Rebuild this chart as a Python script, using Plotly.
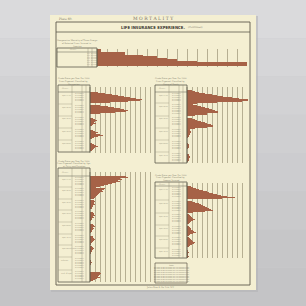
import plotly.graph_objects as go

W = H = 306

# ---------------- data (bar lengths per table row) -------------
top_rows = [4, 4, 28, 28, 46, 60, 70, 80, 100, 150, 150, 0]

ml_rows = [0, 0, 0, 0, 0,
           8, 15, 22, 28, 34, 40, 46, 52, 50, 38, 20,
           0, 0,
           10, 18, 24, 30, 34, 38, 36, 25, 10,
           0, 0, 0, 0,
           3, 5, 7, 5, 4, 6, 3, 2,
           0, 0, 0, 0,
           3, 5, 8, 6, 10, 13, 8, 4, 2,
           0, 0, 0, 0,
           2, 4, 6, 8, 5, 4, 3, 2,
           0, 0]

mr_rows = [0, 0, 0,
           5, 8, 12, 18, 25, 30, 36, 45, 52, 61, 55, 30, 10,
           0,
           6, 10, 14, 18, 22, 25, 28, 31, 20, 8,
           0, 0, 0,
           5, 8, 10, 14, 18, 20, 24, 26, 20, 8, 3,
           2, 3, 4, 3, 3, 2, 2, 1,
           0, 0, 0, 0, 0,
           1, 2, 1, 2, 1,
           0, 0, 0, 0, 0, 0,
           2, 1, 3, 2, 1, 2, 1, 0]

bl_rows = [0, 0, 0, 0,
           36, 38, 30, 32, 28, 30, 26, 22, 18, 14, 10, 6,
           15, 14, 12, 13, 10, 9, 8, 7, 6, 5, 4,
           0,
           4, 5, 4, 4, 5, 3, 3, 2, 2,
           0, 0, 0,
           3, 4, 4, 5, 3, 4, 2, 2, 1,
           0, 0, 0,
           3, 4, 5, 3, 4, 3, 2, 2, 1,
           0, 0, 0,
           3, 3, 4, 5, 4, 3, 2, 1, 1,
           0,
           2, 3, 4, 3, 2, 2, 1, 1, 0,
           0, 0, 0, 0, 0,
           1, 1, 2, 1, 1, 0, 0,
           0, 0, 0, 0, 0,
           10, 11, 10, 9, 8, 10, 7, 5, 3,
           0]

br_rows = [0, 0, 0,
           4, 6, 9, 12, 16, 20, 22, 26, 30, 34, 40, 48, 35,
           0, 0,
           5, 8, 12, 14, 16, 18, 20, 22, 24, 26, 18, 6,
           0,
           2, 3, 4, 5, 6, 8, 6, 4, 3, 2,
           0, 0,
           2, 3, 4, 4, 6, 7, 9, 6, 3, 2,
           0,
           2, 3, 4, 5, 6, 8, 7, 5, 3, 2,
           0, 0, 0,
           1, 1, 2, 1, 1, 1, 2, 1]

group_labels = ["Ages 15–29", "Ages 30–39", "Ages 40–49", "Ages 50–59", "Ages 60–69",
                "Ages 70–79", "Ages 80 and over", "Unknown", "Total, all ages"]

captions = {
    "top": ["Comparative Mortality of Three Groups", "of Selected Lives, Insured in", "America"],
    "ml": ["Crude Rates per Year Per 1000", "Lives Exposed, Classified by", "Occupation"],
    "mr": ["Crude Rates per Year Per 1000", "Lives Exposed, Classified by", "Cause of Death"],
    "bl": ["Crude Rates per Year Per 1000", "Lives Exposed, Classified by Age", "at Entry and Duration"],
    "br": ["Crude Rates per Year Per 1000", "Lives Exposed, Classified by", "Amount Insured"],
}

# ---------------- styling ----------------
BG = "#cdcdcf"
PAPER = "#f4efd2"
BAR = "#a66247"
INK = "#5e5a4c"
GRID = "#b6af92"
TXT = "#7a7666"


def X(x):
    return x / W


def Y(y):
    return 1 - y / H


fig = go.Figure()
shapes = []
ann = []


def text(x, y, s, size, color=TXT, family="DejaVu Serif", anchor="center"):
    ann.append(dict(x=X(x), y=Y(y), xref="paper", yref="paper", text=s, showarrow=False,
                    xanchor=anchor, yanchor="middle", font=dict(size=size, color=color, family=family)))


# background gradient (lighter on top)
bands = ["#dadadc", "#d6d6d8", "#d2d2d4", "#cfcfd1", "#cccccf", "#c9c9cb", "#c6c6c8", "#c4c4c6"]
for i, c in enumerate(bands):
    shapes.append(dict(type="rect", xref="paper", yref="paper", layer="below",
                       x0=0, x1=1, y0=Y((i + 1) * H / len(bands)), y1=Y(i * H / len(bands)),
                       fillcolor=c, line=dict(width=0)))
# poster shadow + sheet
shapes.append(dict(type="rect", xref="paper", yref="paper", layer="below",
                   x0=X(51), x1=X(258), y0=Y(292), y1=Y(16), fillcolor="#b4b4b6",
                   opacity=0.6, line=dict(width=0)))
shapes.append(dict(type="rect", xref="paper", yref="paper", layer="below",
                   x0=X(50), x1=X(256), y0=Y(290), y1=Y(15), fillcolor=PAPER, line=dict(width=0)))
# frame
shapes.append(dict(type="rect", xref="paper", yref="paper", layer="below",
                   x0=X(56), x1=X(250), y0=Y(285), y1=Y(22), line=dict(color=INK, width=0.9)))
shapes.append(dict(type="line", xref="paper", yref="paper", layer="below",
                   x0=X(56), x1=X(250), y0=Y(32), y1=Y(32), line=dict(color=INK, width=0.8)))

text(57, 19, "Plate 60.", 3, anchor="left")
text(153, 18.5, "M O R T A L I T Y", 4.5, color="#7a7466")
text(153, 27, "<b>LIFE INSURANCE EXPERIENCE.</b>", 4.2, color="#3f3b32", family="DejaVu Sans Condensed")
text(186, 27.3, "(Continued)", 2.4, anchor="left")
text(160, 287.5, "Julius Bien & Co. Lith. N.Y.", 2)

# ---------------- panels ----------------
panels = [
    ("top", top_rows, 97, 247, 49, 67, 10, (57, 97, 48, 67), [88, 92], 52, [], (77, 41)),
    ("ml", ml_rows, 90, 153, 87, 153, 5, (58, 90, 85, 152), [72, 82, 86], 92, [104, 116, 128, 140], (74, 79)),
    ("mr", mr_rows, 187, 248, 87, 163, 5, (155, 187, 85, 163), [169, 179, 183], 92, [103, 116, 128, 140, 152], (171, 79)),
    ("bl", bl_rows, 90, 153, 172, 282, 5, (58, 90, 168, 282), [72, 82, 86], 176,
     [187, 199, 210, 222, 234, 245, 257, 270], (74, 161)),
    ("br", br_rows, 187, 248, 183, 258, 5, (155, 187, 182, 258), [169, 179, 183], 186, [200, 213, 225, 236, 248], (171, 175)),
]

layout_axes = {}
for i, (key, rows, bx0, bx1, by0, by1, dt, tb, cols, hy, glines, cap) in enumerate(panels):
    n = len(rows)
    ax = "" if i == 0 else str(i + 1)
    fig.add_trace(go.Bar(x=rows, y=list(range(n)), orientation="h", width=1.0,
                         marker=dict(color=BAR, line=dict(width=0)),
                         xaxis="x" + ax, yaxis="y" + ax, showlegend=False, hoverinfo="x"))
    layout_axes["xaxis" + ax] = dict(domain=[X(bx0), X(bx1)], anchor="y" + ax,
                                     range=[0, bx1 - bx0], showgrid=True, gridcolor=GRID,
                                     gridwidth=0.6, dtick=dt, tick0=0, showticklabels=False,
                                     zeroline=False, showline=False, ticks="")
    layout_axes["yaxis" + ax] = dict(domain=[Y(by1), Y(by0)], anchor="x" + ax,
                                     range=[n - 0.5, -0.5], showgrid=False, zeroline=False,
                                     showticklabels=False, showline=False, ticks="")
    shapes.append(dict(type="line", xref="paper", yref="paper", x0=X(bx0), x1=X(bx0),
                       y0=Y(by1), y1=Y(by0), line=dict(color=INK, width=0.6)))
    tx0, tx1, ty0, ty1 = tb
    shapes.append(dict(type="rect", xref="paper", yref="paper", x0=X(tx0), x1=X(tx1),
                       y0=Y(ty1), y1=Y(ty0), line=dict(color=INK, width=0.8)))
    shapes.append(dict(type="line", xref="paper", yref="paper", x0=X(tx0), x1=X(tx1),
                       y0=Y(hy), y1=Y(hy), line=dict(color=INK, width=0.5)))
    for c in cols:
        shapes.append(dict(type="line", xref="paper", yref="paper", x0=X(c), x1=X(c),
                           y0=Y(ty1), y1=Y(ty0), line=dict(color="#8a8570", width=0.4)))
    for g in glines:
        shapes.append(dict(type="line", xref="paper", yref="paper", x0=X(tx0), x1=X(cols[0]),
                           y0=Y(g), y1=Y(g), line=dict(color="#9a9580", width=0.4)))
    for k, line in enumerate(captions[key]):
        text(cap[0], cap[1] + k * 2.6, line, 2)
    text((tx0 + cols[0]) / 2, (ty0 + hy) / 2, "Classes", 1.6)
    bounds = [hy] + glines + [ty1]
    for g in range(len(bounds) - 1):
        gy0, gy1 = bounds[g], bounds[g + 1]
        if key != "top":
            text(tx0 + 1, gy0 + 3, group_labels[g % len(group_labels)], 1.5, anchor="left")
        yy = gy0 + 1.8
        while yy < gy1 - 0.8:
            text(cols[0] + 0.6, yy, "20–24 yrs.", 1.3, anchor="left")
            text(cols[-1] - 0.4, yy, "12.4", 1.3, anchor="right")
            yy += 1.9

# note box
shapes.append(dict(type="rect", xref="paper", yref="paper", x0=X(155), x1=X(187),
                   y0=Y(283), y1=Y(263), line=dict(color=INK, width=0.7)))
text(171, 265, "Note.", 1.8)
yy = 267.5
while yy < 282:
    text(171, yy, "The rates shown are deaths per 1000 exposed to risk", 1.3)
    yy += 1.8

fig.update_layout(width=W, height=H, margin=dict(l=0, r=0, t=0, b=0),
                  paper_bgcolor=BG, plot_bgcolor="rgba(0,0,0,0)", bargap=0,
                  shapes=shapes, annotations=ann, **layout_axes)

fig.write_html("out.html")
